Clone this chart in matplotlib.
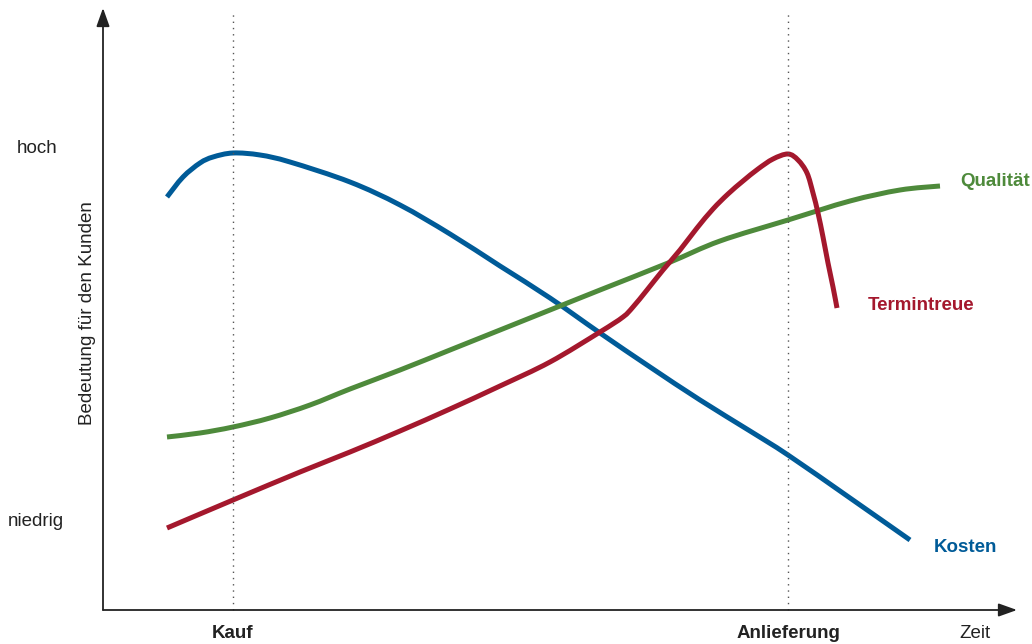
import matplotlib
matplotlib.use("Agg")
import matplotlib.pyplot as plt
from matplotlib.path import Path
from matplotlib.patches import PathPatch

plt.rcParams['font.family'] = ['Liberation Sans', 'DejaVu Sans']

# Time axis runs from 0 (origin) to ~912; importance from 0 (bottom) to ~600
kosten_t = [64, 80, 97, 110, 130, 157, 187, 247, 297, 347, 397, 447, 497, 547, 597, 647, 685, 747, 807]
kosten_v = [413, 433, 447, 453, 457, 455, 448, 428, 405, 376, 344, 312, 277, 243, 210, 179, 155, 112, 70]

qual_t = [64, 97, 130, 167, 207, 247, 297, 347, 397, 447, 497, 565, 617, 685, 747, 797, 837]
qual_v = [173, 177, 183, 192, 205, 221, 240, 260, 280, 300, 320, 347, 369, 390, 409, 420, 424]

termin_t = [64, 130, 197, 247, 297, 347, 397, 447, 497, 520, 530, 544, 560, 577, 594, 610, 625,
            640, 655, 670, 685, 695, 704, 710, 715, 720, 725, 730, 734]
termin_v = [82, 110, 138, 158, 179, 201, 224, 248, 278, 293, 303, 320, 340, 360, 382, 401, 416,
            429, 441, 451, 456, 450, 437, 417, 397, 373, 347, 323, 302]

kauf_t = 130
anlieferung_t = 685

blue = '#005b98'
green = '#4e8a3b'
red = '#a4182d'


def smooth_path(xs, ys):
    """Catmull-Rom curve through the given points, expressed as cubic Bezier segments."""
    pts = list(zip(xs, ys))
    n = len(pts)
    verts = [pts[0]]
    codes = [Path.MOVETO]
    for i in range(n - 1):
        p0 = pts[i - 1] if i > 0 else pts[i]
        p1 = pts[i]
        p2 = pts[i + 1]
        p3 = pts[i + 2] if i + 2 < n else pts[i + 1]
        c1 = (p1[0] + (p2[0] - p0[0]) / 6, p1[1] + (p2[1] - p0[1]) / 6)
        c2 = (p2[0] - (p3[0] - p1[0]) / 6, p2[1] - (p3[1] - p1[1]) / 6)
        verts += [c1, c2, p2]
        codes += [Path.CURVE4] * 3
    return Path(verts, codes)


fig = plt.figure(figsize=(10.32, 6.44), dpi=100)
ax = fig.add_axes([0, 0, 1, 1])
ax.set_xlim(-103, 929)
ax.set_ylim(-34, 610)
ax.axis('off')

# axes with arrowheads
ax.annotate('', xy=(0, 602), xytext=(0, 0),
            arrowprops=dict(arrowstyle='-|>,head_length=0.7,head_width=0.25', color='#222222', lw=1.3,
                            mutation_scale=16, shrinkA=0, shrinkB=0))
ax.annotate('', xy=(914, 0), xytext=(0, 0),
            arrowprops=dict(arrowstyle='-|>,head_length=0.7,head_width=0.25', color='#222222', lw=1.3,
                            mutation_scale=16, shrinkA=0, shrinkB=0))

# event markers
for t in (kauf_t, anlieferung_t):
    ax.plot([t, t], [0, 600], linestyle=(0, (1, 3.5)), color='#555555', lw=1.0)

lw = 3.6
for xs, ys, c in ((kosten_t, kosten_v, blue), (qual_t, qual_v, green), (termin_t, termin_v, red)):
    ax.add_patch(PathPatch(smooth_path(xs, ys), facecolor='none', edgecolor=c, lw=lw,
                           capstyle='butt', joinstyle='round'))

fs = 13.5
ax.text(857, 429, 'Qualität', color=green, fontsize=fs, fontweight='bold', va='center', ha='left')
ax.text(765, 305, 'Termintreue', color=red, fontsize=fs, fontweight='bold', va='center', ha='left')
ax.text(831, 63, 'Kosten', color=blue, fontsize=fs, fontweight='bold', va='center', ha='left')

ax.text(-86, 462, 'hoch', fontsize=fs, va='center', ha='left', color='#222222')
ax.text(-95, 88, 'niedrig', fontsize=fs, va='center', ha='left', color='#222222')
ax.text(-15, 297, 'Bedeutung für den Kunden', fontsize=fs, rotation=90,
        va='center', ha='center', color='#222222')

ax.text(kauf_t, -23, 'Kauf', fontsize=fs, fontweight='bold', va='center', ha='center', color='#222222')
ax.text(anlieferung_t, -23, 'Anlieferung', fontsize=fs, fontweight='bold', va='center', ha='center',
        color='#222222')
ax.text(872, -23, 'Zeit', fontsize=fs, va='center', ha='center', color='#222222')

fig.savefig('out.png', dpi=100)
